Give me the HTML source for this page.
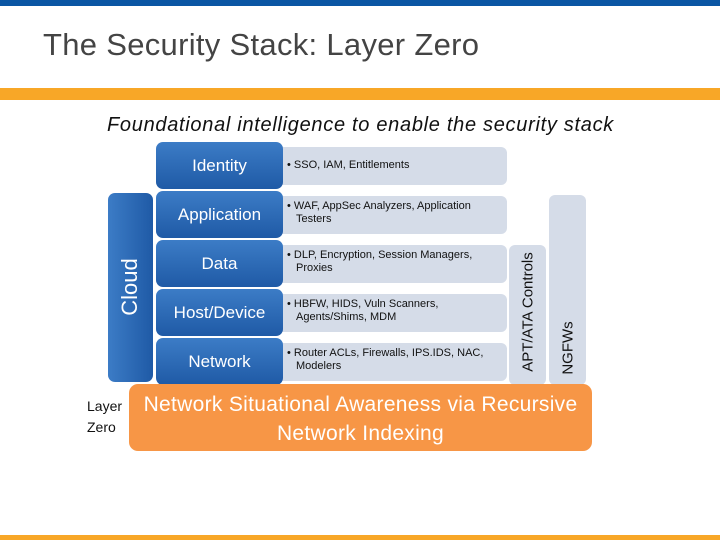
<!DOCTYPE html>
<html><head><meta charset="utf-8"><style>
body{margin:0;width:720px;height:540px;background:#fff;position:relative;overflow:hidden;font-family:"Liberation Sans",sans-serif}
div{position:absolute;box-sizing:border-box}
.blue{left:156px;width:127px;height:47px;border-radius:7px;background:linear-gradient(#3c7cc6,#1f5aa6);color:#fff;font-size:17px;display:flex;align-items:center;justify-content:center}
.grey{left:278px;width:229px;height:38px;border-radius:0 6px 6px 0;background:#d5dce8;font-size:11px;color:#111;padding:4px 8px 0 9px;line-height:13px}
.grey b{font-weight:normal;display:block;padding-left:9px;text-indent:-9px}
.vert{background:#d5dce8;border-radius:6px}
</style></head><body>
<div style="left:0;top:0;width:720px;height:6px;background:#0b56a4"></div>
<div style="left:43px;top:27px;font-size:31px;color:#444;letter-spacing:0.3px">The Security Stack: Layer Zero</div>
<div style="left:0;top:88px;width:720px;height:12px;background:#f8a727"></div>
<div style="left:107px;top:114px;width:520px;font-size:20px;font-style:italic;color:#111;letter-spacing:0.7px;white-space:nowrap">Foundational intelligence to enable the security stack</div>

<div style="left:108px;top:193px;width:45px;height:189px;border-radius:7px;background:linear-gradient(90deg,#3c7cc6,#1f5aa6)"></div>
<div style="left:130px;top:287px;font-size:22px;color:#fff;transform:translate(-50%,-50%) rotate(-90deg);white-space:nowrap">Cloud</div>

<div class="grey" style="top:147px;padding-top:12px"><b>• SSO, IAM, Entitlements</b></div>
<div class="grey" style="top:196px"><b>• WAF, AppSec Analyzers, Application Testers</b></div>
<div class="grey" style="top:245px"><b>• DLP, Encryption, Session Managers, Proxies</b></div>
<div class="grey" style="top:294px"><b>• HBFW, HIDS, Vuln Scanners, Agents/Shims, MDM</b></div>
<div class="grey" style="top:343px"><b>• Router ACLs, Firewalls, IPS.IDS, NAC, Modelers</b></div>

<div class="blue" style="top:142px">Identity</div>
<div class="blue" style="top:191px">Application</div>
<div class="blue" style="top:240px">Data</div>
<div class="blue" style="top:289px">Host/Device</div>
<div class="blue" style="top:338px">Network</div>

<div class="vert" style="left:509px;top:245px;width:37px;height:140px"></div>
<div style="left:528px;top:312px;font-size:15px;color:#111;transform:translate(-50%,-50%) rotate(-90deg);white-space:nowrap">APT/ATA Controls</div>
<div class="vert" style="left:549px;top:195px;width:37px;height:190px"></div>
<div style="left:568px;top:348px;font-size:15px;color:#111;transform:translate(-50%,-50%) rotate(-90deg);white-space:nowrap">NGFWs</div>

<div style="left:129px;top:384px;width:463px;height:67px;border-radius:9px;background:#f79646;color:#fff;font-size:21px;text-align:center;line-height:29px;padding-top:6px;letter-spacing:0.3px">Network Situational Awareness via Recursive<br>Network Indexing</div>
<div style="left:87px;top:396px;font-size:14px;line-height:21px;color:#111">Layer<br>Zero</div>

<div style="left:0;top:535px;width:720px;height:5px;background:#f8a727"></div>
</body></html>
